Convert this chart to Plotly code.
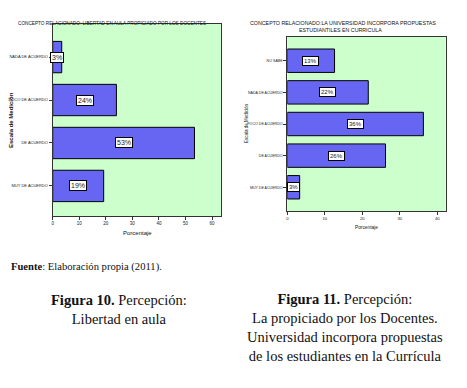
import plotly.graph_objects as go

# page has an 8px body margin; figure is sized so the whole picture fits the 467x388 window
OFF = 8
W, H = 467 - OFF, 388 - OFF

# ---- data ----
left_title = "CONCEPTO RELACIONADO: LIBERTAD EN AULA PROPICIADO POR LOS DOCENTES"
left_cats = ["NADA DE ACUERDO", "POCO DE ACUERDO", "DE ACUERDO", "MUY DE ACUERDO"]
left_vals = [3.4, 24.0, 53.4, 19.2]
left_ticks = [0, 10, 20, 30, 40, 50, 60]

right_title = ["CONCEPTO RELACIONADO:LA UNIVERSIDAD INCORPORA PROPUESTAS",
               "ESTUDIANTILES EN CURRICULA"]
right_cats = ["NO SABE", "NADA DE ACUERDO", "POCO DE ACUERDO", "DE ACUERDO", "MUY DE ACUERDO"]
right_vals = [12.6, 21.6, 36.3, 26.2, 3.3]
right_ticks = [0, 10, 20, 30, 40]

y_title = "Escala de Medición"
x_title = "Porcentaje"

source = "<b>Fuente</b>: Elaboración propia (2011)."
cap_left = "<b>Figura 10.</b> Percepción:<br>Libertad en aula"
cap_right = ("<b>Figura 11.</b> Percepción:<br>La propiciado por los Docentes.<br>"
             "Universidad incorpora propuestas<br>de los estudiantes en la Currícula")

BAR = "#6666f2"
BG = "#ccffcc"
SANS = "Liberation Sans, Arial, sans-serif"
SERIF = "Liberation Serif, Times New Roman, serif"


def px(x):
    return (x - OFF) / W


def py(y):
    return 1 - (y - OFF) / H


fig = go.Figure()
fig.add_trace(go.Bar(x=left_vals, y=left_cats, orientation="h", xaxis="x", yaxis="y",
                     marker=dict(color=BAR, line=dict(color="black", width=1)),
                     width=0.73, hoverinfo="x+y"))
fig.add_trace(go.Bar(x=right_vals, y=right_cats, orientation="h", xaxis="x2", yaxis="y2",
                     marker=dict(color=BAR, line=dict(color="black", width=1)),
                     width=0.74, hoverinfo="x+y"))

ann = []
for c, v in zip(left_cats, left_vals):
    ann.append(dict(x=v / 2, y=c, xref="x", yref="y", text=f"{round(v)}%", showarrow=False,
                    bgcolor="white", bordercolor="black", borderwidth=1, borderpad=1,
                    font=dict(family=SANS, size=7, color="#222")))
for c, v in zip(right_cats, right_vals):
    ann.append(dict(x=v / 2, y=c, xref="x2", yref="y2", text=f"{round(v)}%", showarrow=False,
                    bgcolor="white", bordercolor="black", borderwidth=1, borderpad=1,
                    font=dict(family=SANS, size=6, color="#222")))


def txt(x, y, text, size, family=SANS, xanchor="center", yanchor="middle", angle=0, **kw):
    ann.append(dict(x=px(x), y=py(y), xref="paper", yref="paper", text=text,
                    xanchor=xanchor, yanchor=yanchor, textangle=angle, showarrow=False,
                    font=dict(family=family, size=size, color="#111"), **kw))


# chart titles
txt(112, 23, left_title, 4.7)
txt(343, 23, right_title[0], 5.3)
txt(340, 29.5, right_title[1], 5.3)
# axis titles
txt(11, 120, f"<b>{y_title}</b>", 6, angle=-90)
txt(247, 123, y_title, 4.5, angle=-90)
txt(137, 233, x_title, 6)
txt(366, 227, x_title, 4.8)
# captions
txt(8.5, 266.5, source, 10.6, family=SERIF, xanchor="left")
txt(119, 290, cap_left, 14.5, family=SERIF, yanchor="top", align="center")
txt(345, 289, cap_right, 14.5, family=SERIF, yanchor="top", align="center")

axis_common = dict(showgrid=False, zeroline=False, showline=True, linecolor="#333",
                   linewidth=1, mirror=True, ticks="outside", ticklen=3, tickcolor="#333",
                   fixedrange=True)

fig.update_layout(
    width=W, height=H, margin=dict(l=0, r=0, t=0, b=0),
    paper_bgcolor="white", plot_bgcolor=BG, showlegend=False, annotations=ann,
    xaxis=dict(domain=[px(52.7), px(221.3)], range=[0, 63.5], anchor="y",
               tickvals=left_ticks, tickfont=dict(family=SANS, size=4.5, color="#222"),
               **axis_common),
    yaxis=dict(domain=[py(216), py(24)], range=[3.7, -0.77], anchor="x", type="category",
               categoryorder="array", categoryarray=left_cats,
               tickfont=dict(family=SANS, size=4, color="#222"), **axis_common),
    xaxis2=dict(domain=[px(287.3), px(445.5)], range=[0, 42.2], anchor="y2",
                tickvals=right_ticks, tickfont=dict(family=SANS, size=4.2, color="#222"),
                **axis_common),
    yaxis2=dict(domain=[py(211), py(37)], range=[4.75, -0.75], anchor="x2", type="category",
                categoryorder="array", categoryarray=right_cats,
                tickfont=dict(family=SANS, size=3.6, color="#222"), **axis_common),
)

fig.write_html("out.html")
